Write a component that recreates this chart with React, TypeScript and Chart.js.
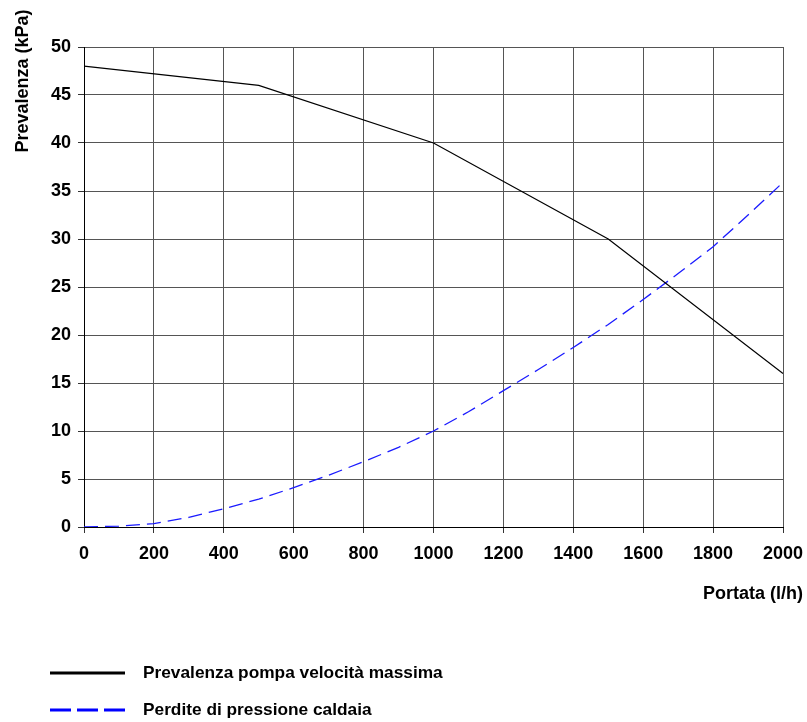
import React, { useEffect, useRef } from "react";
import { Chart, registerables } from "chart.js";

Chart.register(...registerables);

const yTitle = "Prevalenza (kPa)";
const xTitle = "Portata (l/h)";

const pumpLabel = "Prevalenza pompa velocità massima";
const pumpFlow = [0, 500, 1000, 1500, 2000];
const pumpHead = [48, 46, 40, 30, 16];

const lossLabel = "Perdite di pressione caldaia";
const lossFlow = [0, 100, 200, 300, 400, 500, 600, 700, 800, 900, 1000, 1100, 1200, 1300, 1400, 1500, 1600, 1700, 1800, 1900, 2000];
const lossHead = [0, 0.1, 0.35, 1.0, 1.9, 2.9, 4.1, 5.4, 6.8, 8.3, 10, 12, 14.2, 16.4, 18.7, 21.1, 23.7, 26.4, 29.2, 32.5, 35.9];

const xMin = 0, xMax = 2000, xStep = 200;
const yMin = 0, yMax = 50, yStep = 5;

const FONT = '"Liberation Sans", Arial, sans-serif';

export default function App() {
  const ref = useRef<HTMLCanvasElement | null>(null);

  useEffect(() => {
    if (!ref.current) return;
    const overlay = {
      id: "overlay",
      afterDraw(chart: any) {
        const ctx = chart.ctx;
        ctx.save();
        ctx.fillStyle = "#000";
        ctx.font = `bold 18px ${FONT}`;
        ctx.textBaseline = "middle";
        // y title
        ctx.save();
        ctx.translate(23, 81);
        ctx.rotate(-Math.PI / 2);
        ctx.textAlign = "center";
        ctx.fillText(yTitle, 0, 0);
        ctx.restore();
        // x title
        ctx.textAlign = "right";
        ctx.fillText(xTitle, 803, 594);
        // legend
        const items = [
          { label: pumpLabel, color: "#000", dash: [] as number[], y: 673 },
          { label: lossLabel, color: "#0000ff", dash: [21, 6], y: 710 },
        ];
        ctx.font = `bold 17.3px ${FONT}`;
        ctx.textAlign = "left";
        for (const it of items) {
          ctx.beginPath();
          ctx.setLineDash(it.dash);
          ctx.strokeStyle = it.color;
          ctx.lineWidth = 3;
          ctx.moveTo(50, it.y);
          ctx.lineTo(125, it.y);
          ctx.stroke();
          ctx.setLineDash([]);
          ctx.fillText(it.label, 143, it.y);
        }
        ctx.restore();
      },
    };

    const chart = new Chart(ref.current, {
      type: "scatter",
      data: {
        datasets: [
          {
            label: pumpLabel,
            data: pumpFlow.map((x, i) => ({ x, y: pumpHead[i] })),
            showLine: true,
            borderColor: "#000",
            borderWidth: 1.2,
            pointRadius: 0,
            tension: 0,
          },
          {
            label: lossLabel,
            data: lossFlow.map((x, i) => ({ x, y: lossHead[i] })),
            showLine: true,
            borderColor: "#1a1aff",
            borderWidth: 1.3,
            borderDash: [14, 7],
            pointRadius: 0,
            tension: 0,
          },
        ],
      },
      options: {
        responsive: false,
        animation: false,
        devicePixelRatio: 1,
        layout: { padding: { top: 47, right: 24, bottom: 155, left: 0 } },
        plugins: { legend: { display: false }, tooltip: { enabled: false }, title: { display: false } },
        scales: {
          x: {
            type: "linear",
            min: xMin,
            max: xMax,
            afterFit: (s: any) => { s.height = 40; s.paddingLeft = 0; s.paddingRight = 0; },
            ticks: {
              stepSize: xStep,
              color: "#000",
              font: { family: FONT, size: 18, weight: "bold" },
              padding: 10,
              maxRotation: 0,
              autoSkip: false,
              callback: (v: any) => String(v),
            },
            grid: { color: "#555", lineWidth: 1, tickLength: 6, tickColor: "#333" },
            border: { display: true, color: "#000", width: 1 },
          },
          y: {
            type: "linear",
            min: yMin,
            max: yMax,
            afterFit: (s: any) => { s.width = 84; s.paddingTop = 0; s.paddingBottom = 0; },
            ticks: {
              stepSize: yStep,
              color: "#000",
              font: { family: FONT, size: 18, weight: "bold" },
              padding: 7,
              autoSkip: false,
              callback: (v: any) => String(v),
            },
            grid: { color: "#555", lineWidth: 1, tickLength: 6, tickColor: "#333" },
            border: { display: true, color: "#000", width: 1 },
          },
        },
      },
      plugins: [overlay],
    } as any);
    return () => chart.destroy();
  }, []);

  return (
    <div style={{ position: "fixed", left: 0, top: 0, width: 807, height: 722, background: "#fff" }}>
      <canvas ref={ref} width={807} height={722} style={{ width: 807, height: 722, display: "block" }} />
    </div>
  );
}
